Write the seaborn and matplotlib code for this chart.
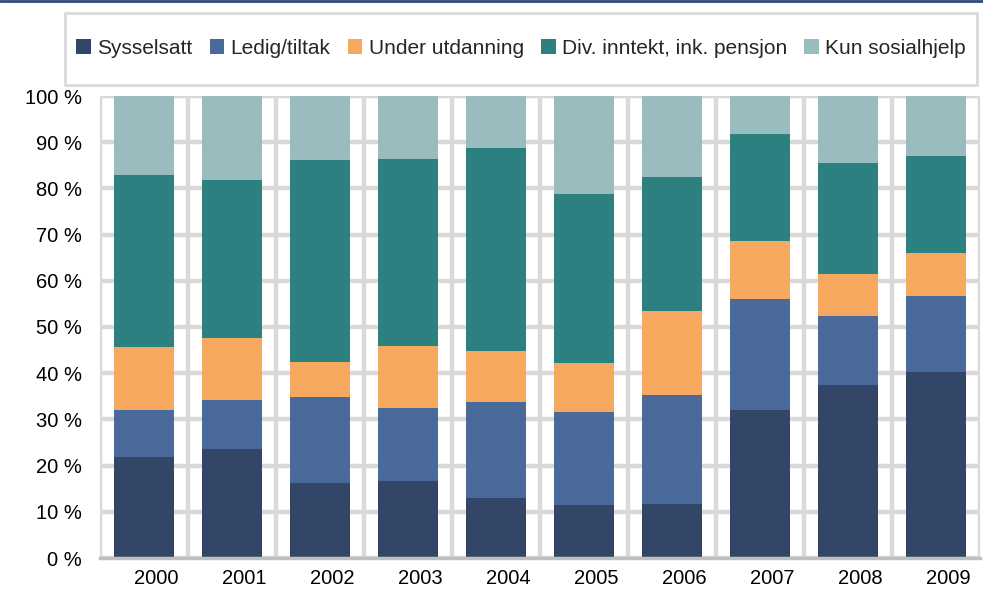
import numpy as np
import pandas as pd
import seaborn as sns
import matplotlib.pyplot as plt
from matplotlib.lines import Line2D
from matplotlib.patches import Patch, Rectangle
from matplotlib.transforms import ScaledTranslation

years = ["2000", "2001", "2002", "2003", "2004", "2005", "2006", "2007", "2008", "2009"]
categories = ["Sysselsatt", "Ledig/tiltak", "Under utdanning",
              "Div. inntekt, ink. pensjon", "Kun sosialhjelp"]
# andel i prosent per år, les fra figuren
sysselsatt = [21.9, 23.6, 16.2, 16.7, 13.0, 11.5, 11.7, 32.0, 37.4, 40.3]
ledig = [10.1, 10.6, 18.6, 15.8, 20.8, 20.1, 23.6, 24.1, 15.0, 16.4]
utdanning = [13.7, 13.4, 7.6, 13.4, 11.0, 10.6, 18.2, 12.5, 9.1, 9.3]
div_inntekt = [37.2, 34.2, 43.7, 40.5, 43.9, 36.6, 29.0, 23.2, 24.0, 21.0]
kun_sosialhjelp = [17.1, 18.2, 13.9, 13.6, 11.3, 21.2, 17.5, 8.2, 14.5, 13.0]
colors = ["#344668", "#4b6a9c", "#f6a95e", "#2c8180", "#99bdbe"]

df = pd.DataFrame({
    "year": years,
    categories[0]: sysselsatt,
    categories[1]: ledig,
    categories[2]: utdanning,
    categories[3]: div_inntekt,
    categories[4]: kun_sosialhjelp,
})
cum = df[categories].cumsum(axis=1)

sns.set_style("white")
plt.rcParams["font.family"] = ["Liberation Sans", "DejaVu Sans"]

fig = plt.figure(figsize=(9.83, 5.92), dpi=100)
ax = fig.add_axes([100 / 983, 34 / 592, 880 / 983, 462 / 592])

# stablede søyler: tegn kumulative summer fra toppen og ned
for cat, col in reversed(list(zip(categories, colors))):
    sns.barplot(x=df["year"], y=cum[cat], color=col, width=0.68,
                saturation=1, ax=ax, zorder=3, linewidth=0)

ax.set_xlim(-0.5, 9.5)
ax.set_ylim(0, 100)
ax.set_yticks(np.arange(0, 101, 10))
ax.set_yticklabels([f"{v} %" for v in range(0, 101, 10)])
ax.set_xticks(np.arange(-0.5, 10, 1), minor=True)
ax.set_xlabel("")
ax.set_ylabel("")
ax.set_axisbelow(True)
ax.grid(axis="y", which="major", color="#d9d9d9", linewidth=3.2)
ax.grid(axis="x", which="minor", color="#d9d9d9", linewidth=3.2)
ax.grid(axis="x", which="major", visible=False)
for s in ["top", "right", "left"]:
    ax.spines[s].set_visible(False)
ax.spines["bottom"].set_color("#bfbfbf")
ax.spines["bottom"].set_linewidth(2.5)
ax.spines["bottom"].set_zorder(4)
ax.tick_params(axis="both", which="both", length=0, labelsize=14.5, colors="black")
ax.tick_params(axis="y", pad=13)
ax.tick_params(axis="x", pad=8)
shift = ScaledTranslation(0.12, 0, fig.dpi_scale_trans)
for lbl in ax.get_xticklabels():
    lbl.set_transform(lbl.get_transform() + shift)

# ramme rundt tegnforklaringen
fig.add_artist(Rectangle((65 / 983, 1 - 85 / 592), 912 / 983, 72 / 592,
                         transform=fig.transFigure, facecolor="white",
                         edgecolor="#d9d9d9", linewidth=2))
handles = [Patch(facecolor=c, edgecolor="none") for c in colors]
leg = fig.legend(handles, categories, loc="center", ncol=5,
                 bbox_to_anchor=(521 / 983, 1 - 48 / 592),
                 fontsize=15, frameon=False,
                 handlelength=0.7, handleheight=0.7, handletextpad=0.3,
                 columnspacing=0.83, borderaxespad=0, borderpad=0)

fig.add_artist(Line2D([0, 1], [1 - 1 / 592, 1 - 1 / 592], color="#2e4a7a",
                      linewidth=2, transform=fig.transFigure))

fig.savefig("out.png", dpi=100)
